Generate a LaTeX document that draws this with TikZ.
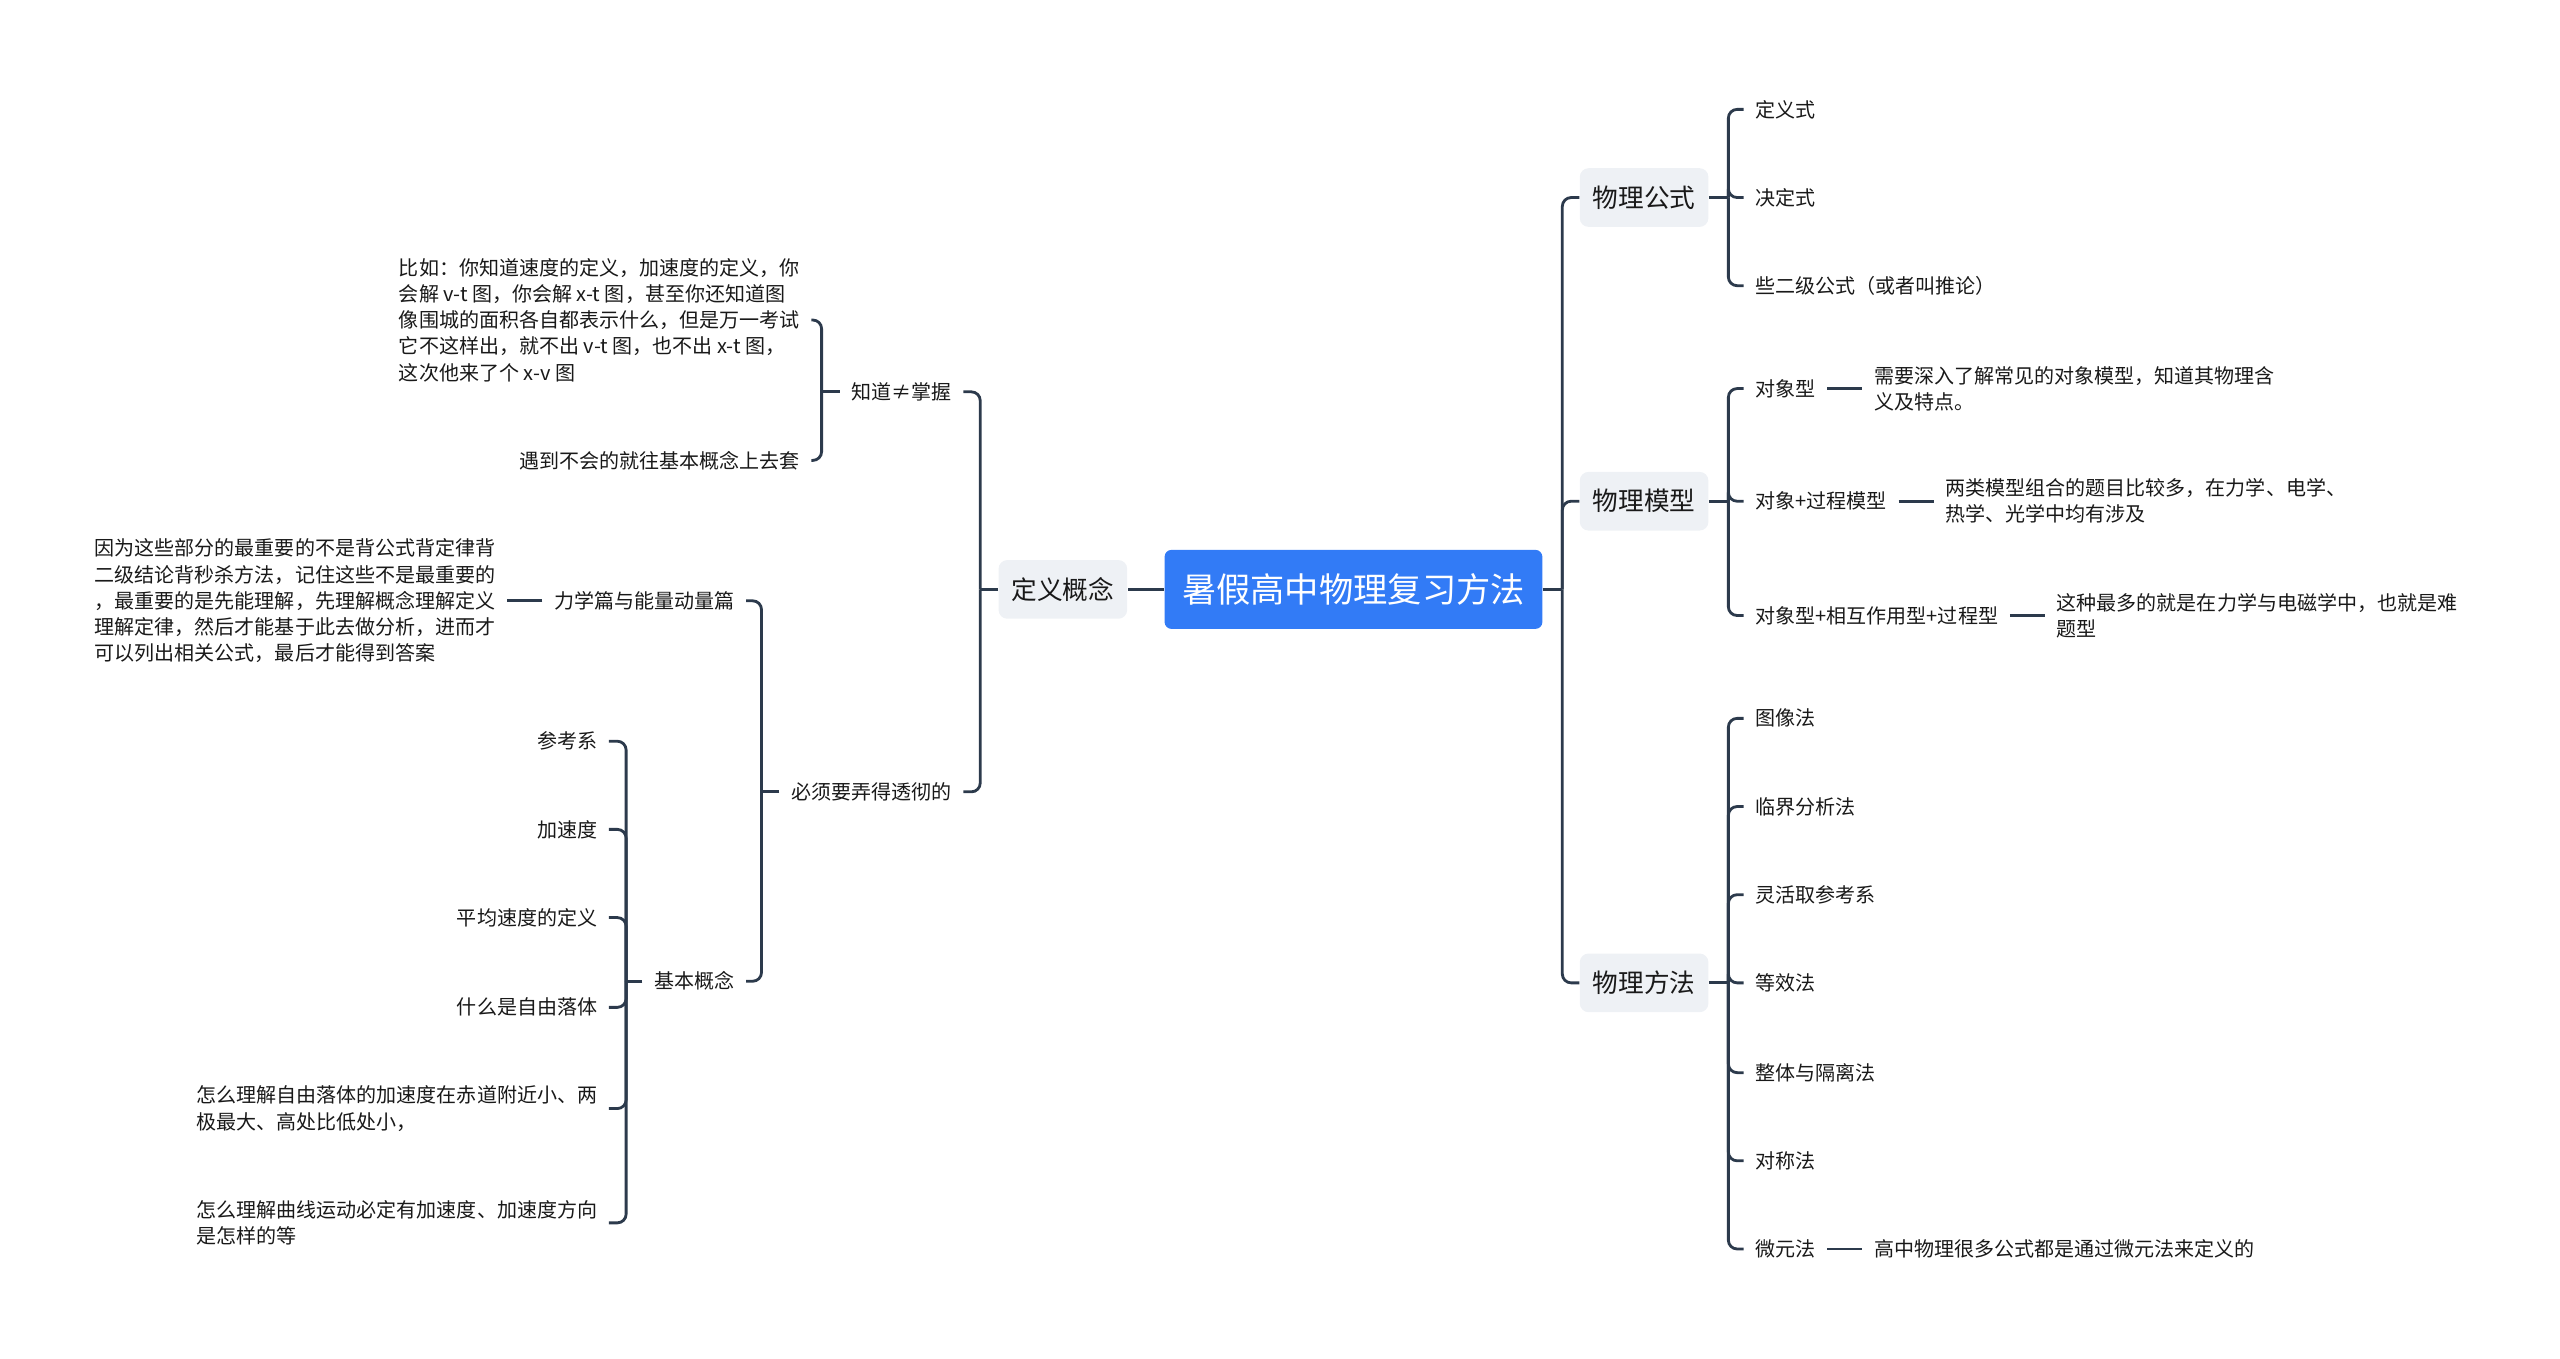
\documentclass[tikz,border=0pt]{standalone}
\usepackage{fontspec}
\setmainfont{Noto Sans CJK SC}
\usepackage{xcolor}
\usepackage{tikz}
\usetikzlibrary{positioning}
\definecolor{rootblue}{RGB}{50,123,246}
\definecolor{topicgray}{RGB}{238,241,245}
\definecolor{linkcol}{RGB}{44,58,76}
\definecolor{inkcol}{RGB}{25,25,25}

\begin{document}
\begin{tikzpicture}[x=0.032653cm,y=-0.032653cm,
  root/.style={fill=rootblue,text=white,rounded corners=4pt,inner xsep=10pt,minimum height=45pt,font=\fontsize{19.5}{23}\selectfont},
  topic/.style={fill=topicgray,text=inkcol,rounded corners=5pt,inner xsep=7.4pt,minimum height=33.4pt,font=\fontsize{14.6}{17}\selectfont},
  leaf/.style={text=inkcol,inner xsep=6.5pt,inner ysep=2pt,align=left,font=\fontsize{11.4}{14.9}\selectfont},
  link/.style={draw=linkcol,line width=1.6pt,rounded corners=5pt}]
  \useasboundingbox (0,0) rectangle (1568,832);

  % centre and main topics
  \node[root] (root) at (829,361) {暑假高中物理复习方法};
  \node[topic] (concept) at (651,361) {定义概念};
  \node[topic] (formula) at (1007,121) {物理公式};
  \node[topic] (model) at (1007,307) {物理模型};
  \node[topic] (method) at (1007,602) {物理方法};

  % left side
  \node[leaf,anchor=east] (know) at (590,240) {知道≠掌握};
  \node[leaf,anchor=east] (must) at (590,485) {必须要弄得透彻的};
  \node[leaf,anchor=east] (ex) at (497,196) {比如：你知道速度的定义，加速度的定义，你\\会解 v-t 图，你会解 x-t 图，甚至你还知道图\\像围城的面积各自都表示什么，但是万一考试\\它不这样出，就不出 v-t 图，也不出 x-t 图，\\这次他来了个 x-v 图};
  \node[leaf,anchor=east] (meet) at (497,282) {遇到不会的就往基本概念上去套};
  \node[leaf,anchor=east] (mech) at (457,368) {力学篇与能量动量篇};
  \node[leaf,left=20pt of mech] (mechnote) {因为这些部分的最重要的不是背公式背定律背\\二级结论背秒杀方法，记住这些不是最重要的\\，最重要的是先能理解，先理解概念理解定义\\理解定律，然后才能基于此去做分析，进而才\\可以列出相关公式，最后才能得到答案};
  \node[leaf,anchor=east] (basic) at (457,601) {基本概念};
  \node[leaf,anchor=east] (b1) at (373,454) {参考系};
  \node[leaf,anchor=east] (b2) at (373,508) {加速度};
  \node[leaf,anchor=east] (b3) at (373,562) {平均速度的定义};
  \node[leaf,anchor=east] (b4) at (373,617) {什么是自由落体};
  \node[leaf,anchor=east] (b5) at (373,679) {怎么理解自由落体的加速度在赤道附近小、两\\极最大、高处比低处小，};
  \node[leaf,anchor=east] (b6) at (373,749) {怎么理解曲线运动必定有加速度、加速度方向\\是怎样的等};

  % right side
  \node[leaf,anchor=west] (f1) at (1068,67) {定义式};
  \node[leaf,anchor=west] (f2) at (1068,121) {决定式};
  \node[leaf,anchor=west] (f3) at (1068,175) {些二级公式（或者叫推论）};
  \node[leaf,anchor=west] (m1) at (1068,238) {对象型};
  \node[leaf,anchor=west] (m2) at (1068,307) {对象+过程模型};
  \node[leaf,anchor=west] (m3) at (1068,377) {对象型+相互作用型+过程型};
  \node[leaf,right=20pt of m1] (m1note) {需要深入了解常见的对象模型，知道其物理含\\义及特点。};
  \node[leaf,right=20pt of m2] (m2note) {两类模型组合的题目比较多，在力学、电学、\\热学、光学中均有涉及};
  \node[leaf,right=20pt of m3] (m3note) {这种最多的就是在力学与电磁学中，也就是难\\题型};
  \foreach \name/\y/\txt in {w1/440/图像法,w2/494/临界分析法,w3/548/灵活取参考系,w4/602/等效法,w5/657/整体与隔离法,w6/711/对称法,w7/765/微元法}
    \node[leaf,anchor=west] (\name) at (1068,\y) {\txt};
  \node[leaf,right=20pt of w7] (w7note) {高中物理很多公式都是通过微元法来定义的};

  % connectors
  \draw[link] (root.west) -- (concept.east);
  \draw[link] (root.east) -- ++(12,0) coordinate (rj);
  \foreach \t in {formula,model,method}
    \draw[link] (rj) |- (\t.west);

  \draw[link] (concept.west) -- ++(-11,0) coordinate (cj);
  \foreach \t in {know,must}
    \draw[link] (cj) |- (\t.east);
  \draw[link] (know.west) -- ++(-11,0) coordinate (kj);
  \foreach \t in {ex,meet}
    \draw[link] (kj) |- (\t.east);
  \draw[link] (must.west) -- ++(-11,0) coordinate (mj);
  \foreach \t in {mech,basic}
    \draw[link] (mj) |- (\t.east);
  \draw[link] (mech.west) -- (mechnote.east);
  \draw[link] (basic.west) -- ++(-10,0) coordinate (bj);
  \foreach \t in {b1,b2,b3,b4,b5,b6}
    \draw[link] (bj) |- (\t.east);

  \draw[link] (formula.east) -- ++(12,0) coordinate (fj);
  \foreach \t in {f1,f2,f3}
    \draw[link] (fj) |- (\t.west);
  \draw[link] (model.east) -- ++(12,0) coordinate (oj);
  \foreach \t in {m1,m2,m3}
    \draw[link] (oj) |- (\t.west);
  \foreach \t in {m1,m2,m3}
    \draw[link] (\t.east) -- (\t note.west);
  \draw[link] (method.east) -- ++(12,0) coordinate (wj);
  \foreach \t in {w1,w2,w3,w4,w5,w6,w7}
    \draw[link] (wj) |- (\t.west);
  \draw[link] (w7.east) -- (w7note.west);
\end{tikzpicture}
\end{document}
